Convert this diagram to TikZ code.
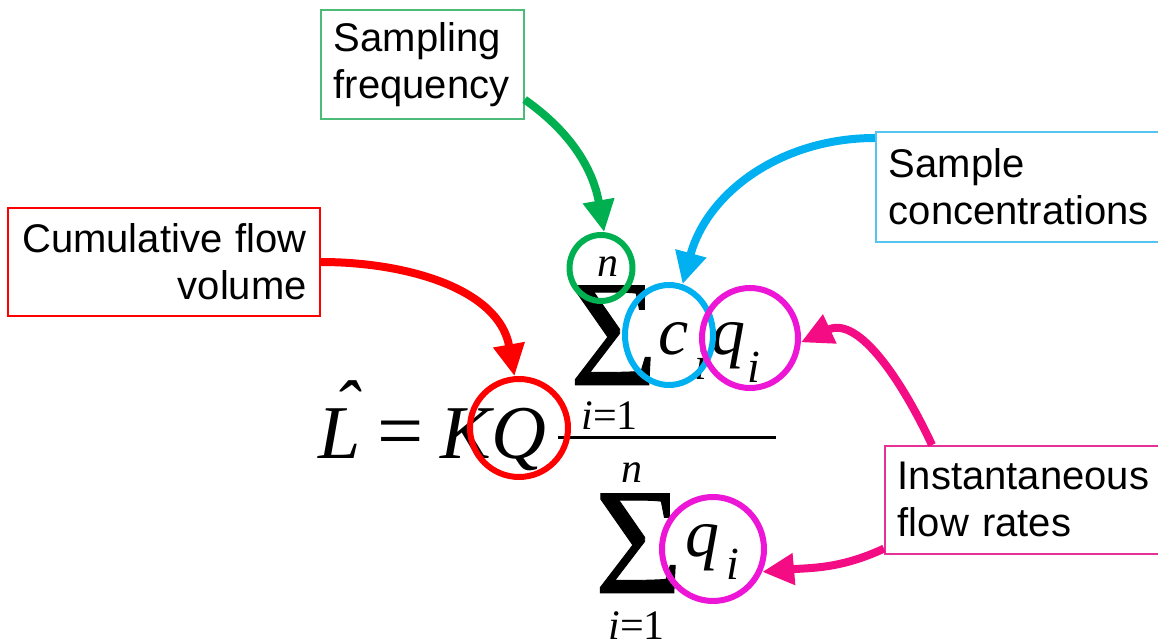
\documentclass[tikz,border=0pt]{standalone}
\usepackage{graphicx}
\usepackage{fontspec}
\setmainfont{Liberation Sans}
\newfontfamily\eqfont{Liberation Serif}
\newfontfamily\sumfont[FakeBold=0.6]{Liberation Serif}
\usetikzlibrary{arrows.meta, shapes.geometric}

\definecolor{arrgreen}{RGB}{0,176,80}
\definecolor{boxgreen}{RGB}{76,187,120}
\definecolor{arrcyan}{RGB}{0,176,240}
\definecolor{boxcyan}{RGB}{85,196,240}
\definecolor{arrred}{RGB}{255,0,0}
\definecolor{arrpink}{RGB}{243,12,132}
\definecolor{boxpink}{RGB}{230,50,150}
\definecolor{ringmag}{RGB}{238,22,214}

\begin{document}
\begin{tikzpicture}[
  x=0.5pt, y=-0.5pt,
  tag/.style={draw=#1, line width=0.8pt, anchor=north west, inner sep=0pt,
    font=\fontsize{20}{23.5}\selectfont},
  ring/.style={draw=#1, ellipse, line width=3pt, inner sep=0pt},
  pointer/.style={color=#1, line width=4pt, -{Triangle[length=16pt, width=15pt]}},
  sym/.style={inner sep=0pt, anchor=base west, font=\fontsize{38}{38}\eqfont\itshape},
  mid/.style={inner sep=0pt, anchor=base west, font=\fontsize{34}{34}\eqfont\itshape},
  small/.style={inner sep=0pt, anchor=base west, font=\fontsize{21}{21}\eqfont},
  sub/.style={inner sep=0pt, anchor=base west, font=\fontsize{23}{23}\eqfont\itshape},
  bigsum/.style={inner sep=0pt, anchor=base west, font=\fontsize{76}{76}\sumfont}
]
\useasboundingbox (0,0) rectangle (1158,641);

% label boxes
\node[tag=boxgreen, minimum width=101.5pt, minimum height=54.5pt, text width=88.5pt, align=left] (gbox) at (320,9) {Sampling\\frequency};
\node[tag=boxcyan, minimum width=150pt, minimum height=55pt, text width=137pt, align=left] (cbox) at (875,131) {Sample\\concentrations};
\node[tag=red, minimum width=156pt, minimum height=54pt, text width=143pt, align=right] (rbox) at (7,207) {Cumulative flow\\volume};
\node[tag=boxpink, minimum width=146pt, minimum height=54pt, text width=133pt, align=left] (pbox) at (884,445) {Instantaneous\\flow rates};

% the formula
\node[sym] (Lhat) at (318,459) {\rlap{\hspace{0.2em}\raisebox{0.33em}{ˆ}}L};
\node[sym, font=\fontsize{41}{41}\eqfont] (eqsign) at (377,459) {=};
\node[sym] (KQ) at (440,459) {KQ};
\draw[line width=1.5pt] (558,438) -- (776,438);

\node[small, font=\fontsize{21}{21}\eqfont\itshape] (numtop) at (597,277) {n};
\node[bigsum] (numsum) at (569,385) {Σ};
\node[small] (numbot) at (581,430) {\textit{i}=1};
\node[mid] (cterm) at (658,355) {c};
\node[sub] (csub) at (694,380) {i};
\node[mid] (qterm) at (711,355) {q};
\node[sub] (qsub) at (747,383) {i};

\node[small, font=\fontsize{21}{21}\eqfont\itshape] (dentop) at (621,483) {n};
\node[bigsum] (densum) at (594,593) {Σ};
\node[small] (denbot) at (608,640) {\textit{i}=1};
\node[mid] (dq) at (685,557) {q};
\node[sub] (dqsub) at (726,580) {i};

% rings
\node[ring=arrgreen, minimum width=31.5pt, minimum height=33pt] (nring) at (601,268) {};
\node[ring=arrcyan, minimum width=44pt, minimum height=50pt] (cring) at (669,335) {};
\node[ring=ringmag, minimum width=48pt, minimum height=50pt] (qring) at (750,338) {};
\node[ring=arrred, minimum width=49pt, minimum height=49pt] (Qring) at (519,428) {};
\node[ring=ringmag, minimum width=51pt, minimum height=52pt] (dqring) at (713,549) {};

% pointers
\draw[pointer=arrgreen] ([yshift=10pt]gbox.south east) to[out=-35, in=100] (nring.85);
\draw[pointer=arrred] ([yshift=-27.5pt]rbox.north east) to[out=0, in=100] (Qring.95);
\draw[pointer=arrcyan] ([yshift=-3.5pt]cbox.north west) to[out=180, in=75] (cring.75);
\draw[pointer=arrpink] ([xshift=24pt]pbox.north west) to[out=115, in=25] (qring.-5);
\draw[pointer=arrpink] ([yshift=3pt]pbox.south west) to[out=205, in=5] (dqring.-25);
\end{tikzpicture}
\end{document}
